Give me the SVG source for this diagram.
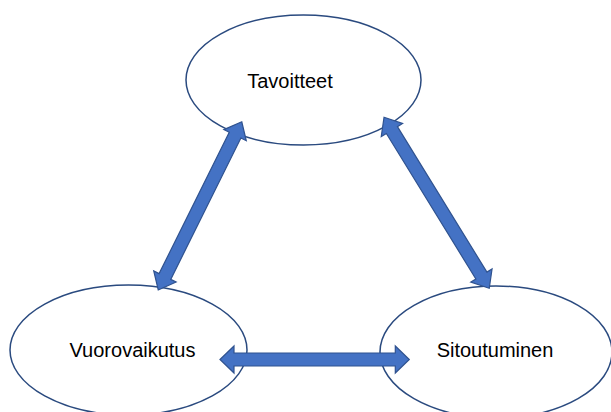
<svg xmlns="http://www.w3.org/2000/svg" width="611" height="412" viewBox="0 0 611 412">
  <style>
    .node ellipse { fill: #ffffff; stroke: #2A4A7F; stroke-width: 1.5; }
    .node text { font-family: "Liberation Sans", Arial, sans-serif; font-size: 20px; fill: #000000; text-anchor: middle; }
    .arrow { fill: #4472C4; stroke: #2F528F; stroke-width: 1.2; stroke-linejoin: miter; }
  </style>
  <rect width="611" height="412" fill="#ffffff"/>

  <g id="tavoitteet" class="node">
    <ellipse cx="303.5" cy="80" rx="117.5" ry="65"/>
    <text x="290" y="88">Tavoitteet</text>
  </g>

  <g id="vuorovaikutus" class="node">
    <ellipse cx="128.5" cy="350" rx="118.5" ry="65"/>
    <text x="132.5" y="357">Vuorovaikutus</text>
  </g>

  <g id="sitoutuminen" class="node">
    <ellipse cx="496" cy="352" rx="116" ry="66"/>
    <text x="495" y="357">Sitoutuminen</text>
  </g>

  <g id="connectors">
    <!-- Tavoitteet <-> Vuorovaikutus -->
    <polygon class="arrow" transform="translate(200 205.85) rotate(116.4)"
      points="-93.9,0 -78.9,-12.5 -78.9,-6.5 78.9,-6.5 78.9,-12.5 93.9,0 78.9,12.5 78.9,6.5 -78.9,6.5 -78.9,12.5"/>
    <!-- Tavoitteet <-> Sitoutuminen -->
    <polygon class="arrow" transform="translate(436.65 202.8) rotate(58.4)"
      points="-100.4,0 -85.4,-12.5 -85.4,-6.5 85.4,-6.5 85.4,-12.5 100.4,0 85.4,12.5 85.4,6.5 -85.4,6.5 -85.4,12.5"/>
    <!-- Vuorovaikutus <-> Sitoutuminen -->
    <polygon class="arrow" transform="translate(314.65 359.5)"
      points="-94.65,0 -80.65,-13.5 -80.65,-6.5 80.65,-6.5 80.65,-13.5 94.65,0 80.65,13.5 80.65,6.5 -80.65,6.5 -80.65,13.5"/>
  </g>
</svg>
